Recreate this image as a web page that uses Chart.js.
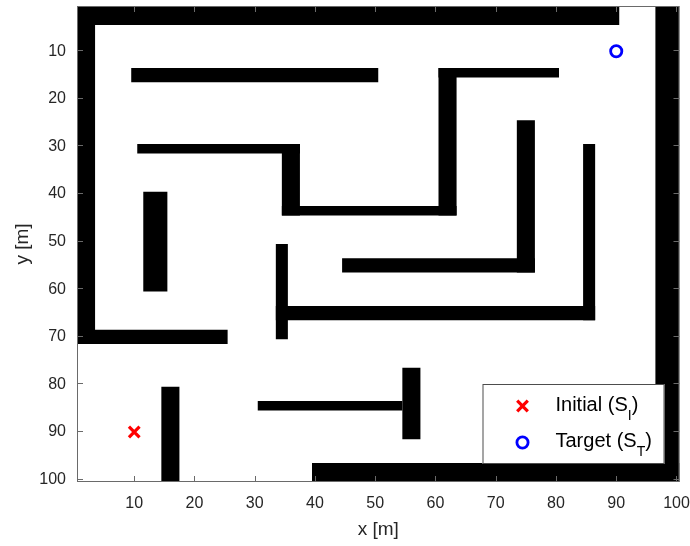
<!DOCTYPE html>
<html>
<head>
<meta charset="utf-8">
<script src="https://cdn.jsdelivr.net/npm/chart.js@4/dist/chart.umd.min.js"></script>
<style>
  html, body { margin: 0; padding: 0; background: #fff; }
  canvas { display: block; }
</style>
</head>
<body>
<canvas id="maze" width="690" height="546"></canvas>
<script>
// grid is 100 x 100 cells, each wall = [firstCol, lastCol, firstRow, lastRow]
const walls = [
  [1, 90, 1, 4],
  [1, 3, 1, 71],
  [1, 25, 69, 71],
  [15, 17, 81, 100],
  [97, 100, 1, 100],
  [40, 100, 97, 100],
  [10, 50, 14, 16],
  [11, 37, 30, 31],
  [35, 37, 30, 44],
  [35, 63, 43, 44],
  [61, 63, 14, 44],
  [61, 80, 14, 15],
  [12, 15, 40, 60],
  [74, 76, 25, 56],
  [45, 76, 54, 56],
  [85, 86, 30, 66],
  [34, 86, 64, 66],
  [34, 35, 51, 70],
  [55, 57, 77, 91],
  [31, 54, 84, 85]
];
const startPoint = {x: 10, y: 90};
const targetPoint = {x: 90, y: 10};
const legendNames = ['Initial', 'Target'];
const legendSubs = ['I', 'T'];
const xTicks = [10, 20, 30, 40, 50, 60, 70, 80, 90, 100];
const yTicks = [10, 20, 30, 40, 50, 60, 70, 80, 90, 100];

Chart.defaults.font.family = "'Liberation Sans', Arial, Helvetica, sans-serif";
Chart.defaults.color = '#262626';

function wallShape(w) {
  const x0 = w[0] - 0.5, x1 = w[1] + 0.5, y0 = w[2] - 0.5, y1 = w[3] + 0.5;
  return [{x: x0, y: y0}, {x: x1, y: y0}, {x: x1, y: y1}, {x: x0, y: y1}, {x: x0, y: y0}];
}

const datasets = walls.map((w, i) => ({
  label: 'wall' + i,
  data: wallShape(w),
  showLine: true,
  fill: 'shape',
  backgroundColor: '#000',
  borderColor: 'rgba(0,0,0,0)',
  borderWidth: 0,
  pointRadius: 0,
  tension: 0
}));
datasets.push({
  label: 'Initial (S_I)',
  data: [startPoint],
  showLine: false,
  pointStyle: 'crossRot',
  pointRadius: 7.5,
  pointBorderWidth: 3.2,
  pointBorderColor: '#ff0000',
  borderColor: '#ff0000'
});
datasets.push({
  label: 'Target (S_T)',
  data: [targetPoint],
  showLine: false,
  pointStyle: 'circle',
  pointRadius: 5.6,
  pointBorderWidth: 2.8,
  pointBorderColor: '#0000ff',
  pointBackgroundColor: 'rgba(0,0,0,0)',
  borderColor: '#0000ff'
});

// box round the axes and the inward tick marks
const frame = {
  id: 'frame',
  afterDatasetsDraw(chart) {
    const {ctx, chartArea: a, scales: {x, y}} = chart;
    ctx.save();
    ctx.strokeStyle = '#6a6a6a';
    ctx.lineWidth = 1;
    ctx.strokeRect(a.left + 0.5, a.top + 0.5, a.width - 1, a.height - 1);
    ctx.beginPath();
    const len = 6;
    x.ticks.forEach(t => {
      const px = Math.round(x.getPixelForValue(t.value)) + 0.5;
      ctx.moveTo(px, a.bottom); ctx.lineTo(px, a.bottom - len);
      ctx.moveTo(px, a.top); ctx.lineTo(px, a.top + len);
    });
    y.ticks.forEach(t => {
      const py = Math.round(y.getPixelForValue(t.value)) - 0.5;
      ctx.moveTo(a.left, py); ctx.lineTo(a.left + len, py);
      ctx.moveTo(a.right, py); ctx.lineTo(a.right - len, py);
    });
    ctx.stroke();
    ctx.restore();
  }
};

// legend box with subscripts, bottom right inside the axes
const legendBox = {
  id: 'legendBox',
  afterDraw(chart) {
    const {ctx, chartArea: a} = chart;
    const w = 182, h = 80;
    const left = a.right - 15 - w, top = a.bottom - 18 - h;
    ctx.save();
    ctx.fillStyle = '#fff';
    ctx.fillRect(left, top, w, h);
    ctx.strokeStyle = '#4d4d4d';
    ctx.lineWidth = 1;
    ctx.strokeRect(left + 0.5, top + 0.5, w - 1, h - 1);

    const mx = left + 40;
    // red cross
    let cy = top + 22;
    ctx.strokeStyle = '#ff0000';
    ctx.lineWidth = 3.2;
    ctx.beginPath();
    ctx.moveTo(mx - 5.3, cy - 5.3); ctx.lineTo(mx + 5.3, cy + 5.3);
    ctx.moveTo(mx + 5.3, cy - 5.3); ctx.lineTo(mx - 5.3, cy + 5.3);
    ctx.stroke();
    // blue circle
    cy = top + 58.5;
    ctx.strokeStyle = '#0000ff';
    ctx.lineWidth = 2.8;
    ctx.beginPath();
    ctx.arc(mx, cy, 5.6, 0, Math.PI * 2);
    ctx.stroke();

    const fam = Chart.defaults.font.family;
    const tx = left + 73;
    const baselines = [top + 27, top + 63];
    ctx.fillStyle = '#000';
    ctx.textBaseline = 'alphabetic';
    ctx.textAlign = 'left';
    legendNames.forEach((name, i) => {
      let x = tx;
      const b = baselines[i];
      ctx.font = '20px ' + fam;
      const main = name + ' (S';
      ctx.fillText(main, x, b);
      x += ctx.measureText(main).width;
      ctx.font = '14px ' + fam;
      ctx.fillText(legendSubs[i], x, b + 9);
      x += ctx.measureText(legendSubs[i]).width;
      ctx.font = '20px ' + fam;
      ctx.fillText(')', x, b);
    });
    ctx.restore();
  }
};

new Chart(document.getElementById('maze'), {
  type: 'line',
  data: {datasets},
  options: {
    responsive: false,
    animation: false,
    layout: {autoPadding: false, padding: {left: 0, right: 10.5, top: 6, bottom: 0}},
    plugins: {legend: {display: false}, tooltip: {enabled: false}},
    scales: {
      x: {
        type: 'linear',
        min: 0.5,
        max: 100.5,
        grid: {display: false, drawTicks: false},
        border: {display: false},
        afterBuildTicks: s => { s.ticks = xTicks.map(v => ({value: v})); },
        afterFit: s => { s.height = 64; s.paddingLeft = 0; s.paddingRight = 0; },
        ticks: {
          autoSkip: false,
          maxRotation: 0,
          padding: 12,
          color: '#262626',
          font: {size: 16},
          callback: v => String(v)
        },
        title: {
          display: true,
          text: 'x [m]',
          color: '#262626',
          font: {size: 19},
          padding: {top: 0, bottom: 5}
        }
      },
      y: {
        type: 'linear',
        reverse: true,
        min: 0.5,
        max: 100.5,
        grid: {display: false, drawTicks: false},
        border: {display: false},
        afterBuildTicks: s => { s.ticks = yTicks.map(v => ({value: v})); },
        afterFit: s => { s.width = 77; s.paddingTop = 0; s.paddingBottom = 0; },
        ticks: {
          autoSkip: false,
          padding: 11,
          color: '#262626',
          font: {size: 16},
          callback: v => String(v)
        },
        title: {
          display: true,
          text: 'y [m]',
          color: '#262626',
          font: {size: 19},
          padding: {top: 11, bottom: 0}
        }
      }
    }
  },
  plugins: [frame, legendBox]
});
</script>
</body>
</html>
